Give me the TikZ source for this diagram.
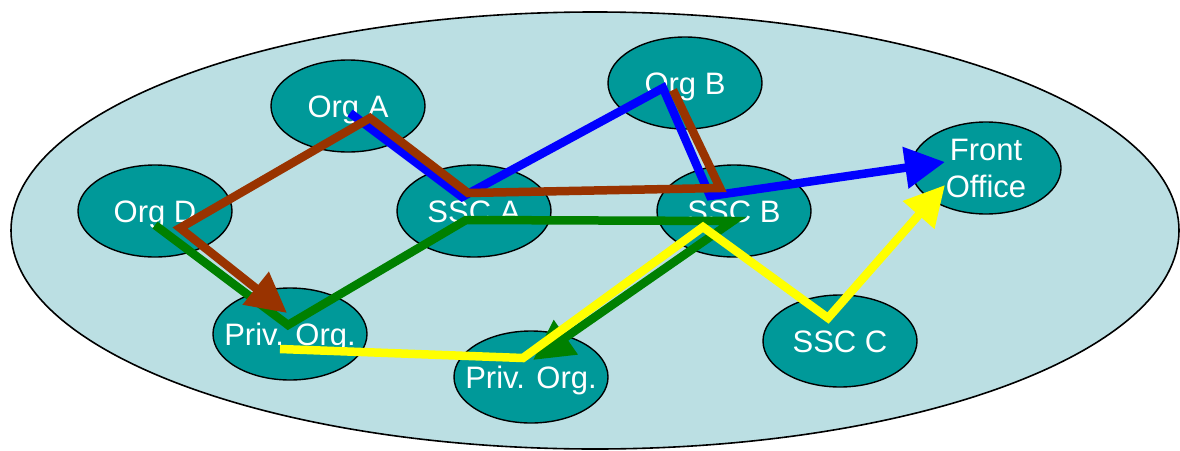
\documentclass[tikz,border=0pt]{standalone}
\usepackage{fontspec}
\setmainfont{Liberation Sans}
\usetikzlibrary{shapes.geometric,arrows.meta}
\definecolor{pool}{RGB}{187,223,227}
\definecolor{unit}{RGB}{0,153,153}
\definecolor{flowblue}{RGB}{0,0,255}
\definecolor{flowbrown}{RGB}{153,51,0}
\definecolor{flowgreen}{RGB}{0,128,0}
\definecolor{flowyellow}{RGB}{255,255,0}

\begin{document}
\begin{tikzpicture}[x=1pt,y=-1pt,
  unitbox/.style={ellipse, draw=black, line width=1.4pt, fill=unit,
    minimum width=154pt, minimum height=92pt, inner sep=0pt},
  unittext/.style={text=white, font=\fontsize{31}{37}\selectfont,
    inner sep=0pt, text height=22pt, text depth=0pt},
  twolinetext/.style={text=white, font=\fontsize{31}{37}\selectfont,
    inner sep=0pt, align=center},
  flow/.style={line width=8.5pt, line join=miter},
  head/.style={-{Triangle[length=40pt,width=40pt]}},
]
\useasboundingbox (0,0) rectangle (1180,450);

% the shared pool
\node[ellipse, draw=black, line width=1.6pt, fill=pool,
      minimum width=1168pt, minimum height=437pt, inner sep=0pt] (pool) at (595,230.5) {};

% organisations and service centres
\node[unitbox, label={[unittext]center:Org A}] (orgA) at (348,106) {};
\node[unitbox, label={[unittext]center:Org B}] (orgB) at (685,83) {};
\node[unitbox, label={[unittext]center:Org D}] (orgD) at (155,211) {};
\node[unitbox, label={[unittext]center:SSC A}] (sscA) at (474,211) {};
\node[unitbox, label={[unittext]center:SSC B}] (sscB) at (734,211) {};
\node[unitbox, label={[unittext]center:SSC C}] (sscC) at (840,341) {};
\node[unitbox, minimum width=150pt,
      label={[twolinetext]center:Front\\Office}] (front) at (986,168) {};
\node[unitbox, label={[unittext]center:Priv. Org.}] (privA) at (290,334) {};
\node[unitbox, label={[unittext]center:Priv. Org.}] (privB) at (531,377) {};

% bend points of the flows
\coordinate (b1) at ([shift={(2,7)}]orgA.center);
\coordinate (b2) at ([shift={(-12,-14)}]sscA.center);
\coordinate (b3) at ([shift={(-22,5)}]orgB.center);
\coordinate (b4) at ([shift={(-24,-15)}]sscB.center);
\coordinate (b5) at ([shift={(-41,-6)}]front.center);

\coordinate (r1) at ([shift={(-12,7)}]orgB.center);
\coordinate (r2) at ([shift={(-14,-23)}]sscB.center);
\coordinate (r3) at ([shift={(-6,-18)}]sscA.center);
\coordinate (r4) at ([shift={(22,12)}]orgA.center);
\coordinate (r5) at ([shift={(25,17)}]orgD.center);
\coordinate (r6) at ([shift={(-3,-21)}]privA.center);

\coordinate (g1) at ([shift={(0,14)}]orgD.center);
\coordinate (g2) at ([shift={(-2,-9)}]privA.center);
\coordinate (g3) at ([shift={(-8,9)}]sscA.center);
\coordinate (g4) at ([shift={(-1,10)}]sscB.center);
\coordinate (g5) at ([shift={(2,-17)}]privB.center);

\coordinate (y1) at ([shift={(-10,15)}]privA.center);
\coordinate (y2) at ([shift={(-8,-19)}]privB.center);
\coordinate (y3) at ([shift={(-31,16)}]sscB.center);
\coordinate (y4) at ([shift={(-12,-23)}]sscC.center);
\coordinate (y5) at ([shift={(-41,17)}]front.center);

% flows
\draw[flow, flowgreen, head] (g1) -- (g2) -- (g3) -- (g4) -- (g5);
\draw[flow, flowblue, head] (b1) -- (b2) -- (b3) -- (b4) -- (b5);
\draw[flow, flowbrown, head] (r1) -- (r2) -- (r3) -- (r4) -- (r5) -- (r6);
\draw[flow, flowyellow, head] (y1) -- (y2) -- (y3) -- (y4) -- (y5);
\end{tikzpicture}
\end{document}
